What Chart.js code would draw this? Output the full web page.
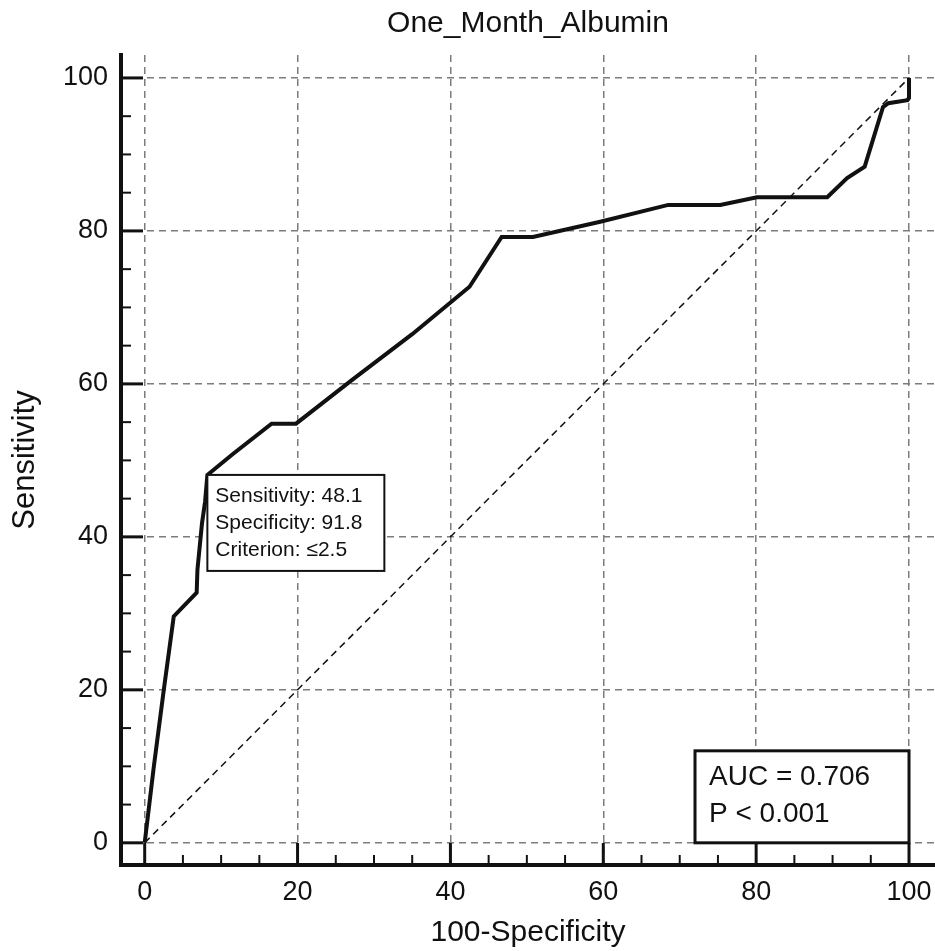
<!DOCTYPE html>
<html>
<head>
<meta charset="utf-8">
<script src="https://cdn.jsdelivr.net/npm/chart.js@4.4.1/dist/chart.umd.min.js"></script>
<style>
  html, body { margin: 0; padding: 0; background: #fff; }
  #wrap { width: 935px; height: 951px; position: relative; }
</style>
</head>
<body>
<div id="wrap"><canvas id="roc"></canvas></div>
<script>
// ROC curve points (100-Specificity, Sensitivity)
const fpr = [0, 1.2, 2.5, 3.8, 6.8, 6.9, 7.5, 7.9, 8.2, 11.5, 16.6, 19.8, 27.1, 35.0, 42.5, 46.7, 50.8, 59.6, 68.5, 75.3, 80.1, 89.3, 91.9, 94.2, 96.6, 97.3, 99.8, 100, 100];
const tpr = [0, 10, 20, 29.6, 32.7, 35.7, 41.8, 44.6, 48.1, 50.8, 54.8, 54.8, 60.5, 66.5, 72.7, 79.2, 79.2, 81.2, 83.4, 83.4, 84.4, 84.4, 86.9, 88.4, 96.2, 96.7, 97.1, 97.4, 100];
const refX = [0, 100];
const refY = [0, 100];

const xTicks = [0, 20, 40, 60, 80, 100];
const yTicks = [0, 20, 40, 60, 80, 100];
const minorStep = 5;

const criterionPoint = [8.2, 48.1];
const criterionLines = ['Sensitivity: 48.1', 'Specificity: 91.8', 'Criterion: \u22642.5'];
const aucLines = ['AUC = 0.706', 'P < 0.001'];

const FONT = '"Liberation Sans", Arial, sans-serif';
const INK = '#111';
const GRID = '#7c7c7c';

// inside tick marks + annotation boxes
const decorations = {
  id: 'decorations',
  afterDatasetsDraw(chart) {
    const { ctx, chartArea: a, scales: { x, y } } = chart;
    ctx.save();
    ctx.strokeStyle = INK;
    // x ticks
    for (let v = 0; v <= 100; v += minorStep) {
      const major = v % 20 === 0;
      const px = x.getPixelForValue(v);
      ctx.lineWidth = major ? 3 : 2;
      ctx.beginPath();
      ctx.moveTo(px, a.bottom);
      ctx.lineTo(px, a.bottom - (major ? 22 : 10));
      ctx.stroke();
    }
    // y ticks
    for (let v = 0; v <= 100; v += minorStep) {
      const major = v % 20 === 0;
      const py = y.getPixelForValue(v);
      ctx.lineWidth = major ? 3 : 2;
      ctx.beginPath();
      ctx.moveTo(a.left, py);
      ctx.lineTo(a.left + (major ? 22 : 10), py);
      ctx.stroke();
    }

    // criterion box, top-left corner on the optimal point
    const bx = x.getPixelForValue(criterionPoint[0]);
    const by = y.getPixelForValue(criterionPoint[1]);
    ctx.fillStyle = '#fff';
    ctx.fillRect(bx, by, 177, 96);
    ctx.lineWidth = 2;
    ctx.strokeRect(bx, by, 177, 96);
    ctx.fillStyle = INK;
    ctx.font = '21px ' + FONT;
    ctx.textBaseline = 'middle';
    ctx.textAlign = 'left';
    criterionLines.forEach((t, i) => ctx.fillText(t, bx + 8, by + 21 + i * 27));

    // AUC box, bottom-right at (100, 0)
    const rx = x.getPixelForValue(100);
    const ry = y.getPixelForValue(0);
    const w = 214, h = 92;
    ctx.fillStyle = '#fff';
    ctx.fillRect(rx - w, ry - h, w, h);
    ctx.lineWidth = 3;
    ctx.strokeRect(rx - w, ry - h, w, h);
    ctx.fillStyle = INK;
    ctx.font = '28px ' + FONT;
    aucLines.forEach((t, i) => ctx.fillText(t, rx - w + 14, ry - h + 26 + i * 37));
    ctx.restore();
  }
};

new Chart(document.getElementById('roc'), {
  type: 'scatter',
  data: {
    datasets: [
      {
        label: 'Reference',
        data: refX.map((v, i) => ({ x: v, y: refY[i] })),
        showLine: true, borderColor: INK, borderWidth: 1.5, borderDash: [7, 5],
        pointRadius: 0,
      },
      {
        label: 'One_Month_Albumin',
        data: fpr.map((v, i) => ({ x: v, y: tpr[i] })),
        showLine: true, borderColor: INK, borderWidth: 4, tension: 0,
        pointRadius: 0,
      },
    ],
  },
  options: {
    responsive: true, maintainAspectRatio: false, animation: false,
    layout: { padding: 0 },
    plugins: {
      legend: { display: false },
      tooltip: { enabled: false },
      title: {
        display: true, text: 'One_Month_Albumin', fullSize: false,
        color: INK, font: { family: FONT, size: 30, weight: 'normal' },
        padding: { top: 6, bottom: 13 },
      },
    },
    scales: {
      x: {
        type: 'linear', min: -3.1, max: 103.4,
        afterBuildTicks: s => { s.ticks = xTicks.map(v => ({ value: v })); },
        afterFit: s => { s.height = 86; s.paddingLeft = 0; s.paddingRight = 0; },
        grid: { color: GRID, lineWidth: 1.5, drawTicks: false },
        border: { display: true, color: INK, width: 4, dash: [7, 5] },
        ticks: { color: INK, padding: 11, font: { family: FONT, size: 27 } },
        title: {
          display: true, text: '100-Specificity', color: INK,
          font: { family: FONT, size: 30 }, padding: { top: 0, bottom: 0 },
        },
      },
      y: {
        type: 'linear', min: -2.9, max: 103,
        afterBuildTicks: s => { s.ticks = yTicks.map(v => ({ value: v })); },
        afterFit: s => { s.width = 121; },
        grid: { color: GRID, lineWidth: 1.5, drawTicks: false },
        border: { display: true, color: INK, width: 4, dash: [7, 5] },
        ticks: { color: INK, padding: 13, font: { family: FONT, size: 27 } },
        title: {
          display: true, text: 'Sensitivity', color: INK,
          font: { family: FONT, size: 31 }, padding: { top: 7, bottom: 0 },
        },
      },
    },
  },
  plugins: [decorations],
});
</script>
</body>
</html>
